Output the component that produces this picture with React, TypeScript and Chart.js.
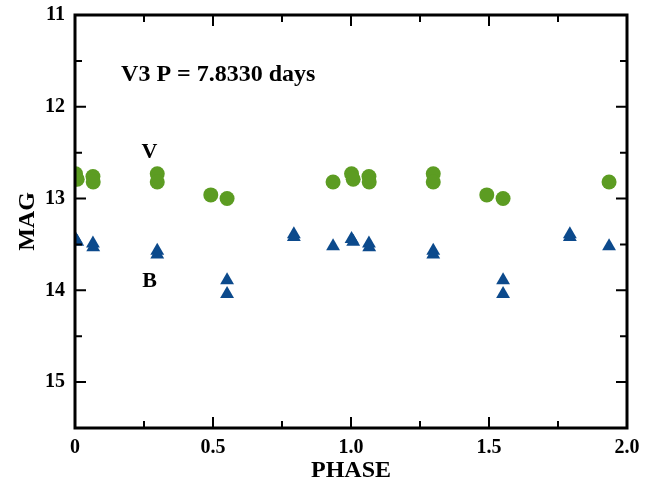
import React, { useEffect, useRef } from "react";
import { Chart, registerables } from "chart.js";

Chart.register(...registerables);

const vPhase = [0.002, 0.008, 0.065, 0.066, 0.298, 0.298, 0.492, 0.551, 0.935, 1.002, 1.008, 1.065, 1.066, 1.298, 1.298, 1.492, 1.551, 1.935];
const vMag = [12.73, 12.79, 12.76, 12.82, 12.73, 12.82, 12.96, 13.0, 12.82, 12.73, 12.79, 12.76, 12.82, 12.73, 12.82, 12.96, 13.0, 12.82];

const bPhase = [0.002, 0.008, 0.065, 0.066, 0.298, 0.298, 0.551, 0.551, 0.793, 0.793, 0.935, 1.002, 1.008, 1.065, 1.066, 1.298, 1.298, 1.551, 1.551, 1.793, 1.793, 1.935];
const bMag = [13.44, 13.47, 13.49, 13.53, 13.57, 13.61, 13.89, 14.04, 13.39, 13.42, 13.52, 13.44, 13.47, 13.49, 13.53, 13.57, 13.61, 13.89, 14.04, 13.39, 13.42, 13.52];

const titleText = "V3 P = 7.8330 days";
const vLabel = "V";
const bLabel = "B";

const FONT = "'Liberation Serif', 'Times New Roman', serif";

const framePlugin = {
  id: "framePlugin",
  afterDraw(chart: any) {
    const { ctx, chartArea } = chart;
    const { left, right, top, bottom } = chartArea;
    const xs = chart.scales.x;
    const ys = chart.scales.y;
    ctx.save();
    ctx.strokeStyle = "#000";
    ctx.lineWidth = 2;
    ctx.beginPath();
    xs.ticks.forEach((t: any) => {
      const v = t.value;
      if (v <= 0 || v >= 2) return;
      const major = Math.abs(v * 2 - Math.round(v * 2)) < 1e-6;
      const len = major ? 11 : 7;
      const px = xs.getPixelForValue(v);
      ctx.moveTo(px, bottom);
      ctx.lineTo(px, bottom - len);
      ctx.moveTo(px, top);
      ctx.lineTo(px, top + len);
    });
    ys.ticks.forEach((t: any) => {
      const v = t.value;
      if (v <= 11 || v >= 15.5) return;
      const major = Math.abs(v - Math.round(v)) < 1e-6;
      const len = major ? 11 : 7;
      const py = ys.getPixelForValue(v);
      ctx.moveTo(left, py);
      ctx.lineTo(left + len, py);
      ctx.moveTo(right, py);
      ctx.lineTo(right - len, py);
    });
    ctx.stroke();
    ctx.lineWidth = 3;
    ctx.strokeRect(left, top, right - left, bottom - top);

    ctx.fillStyle = "#000";
    ctx.textBaseline = "middle";
    ctx.textAlign = "left";
    ctx.font = `bold 24px ${FONT}`;
    ctx.fillText(titleText, xs.getPixelForValue(0.167), ys.getPixelForValue(11.65));
    ctx.textAlign = "center";
    ctx.font = `bold 22px ${FONT}`;
    ctx.fillText(vLabel, xs.getPixelForValue(0.27), ys.getPixelForValue(12.5));
    ctx.fillText(bLabel, xs.getPixelForValue(0.27), ys.getPixelForValue(13.9));
    ctx.restore();
  },
};

export default function App() {
  const ref = useRef<HTMLCanvasElement>(null);
  useEffect(() => {
    if (!ref.current) return;
    const chart = new Chart(ref.current, {
      type: "scatter",
      data: {
        datasets: [
          {
            label: "V",
            data: vPhase.map((p, i) => ({ x: p, y: vMag[i] })),
            pointStyle: "circle",
            pointRadius: 7.5,
            backgroundColor: "#5C9C22",
            borderColor: "#5C9C22",
            borderWidth: 0,
            clip: 0,
          } as any,
          {
            label: "B",
            data: bPhase.map((p, i) => ({ x: p, y: bMag[i] })),
            pointStyle: "triangle",
            pointRadius: 8,
            backgroundColor: "#0C4A8C",
            borderColor: "#0C4A8C",
            borderWidth: 0,
            clip: 0,
          } as any,
        ],
      },
      options: {
        responsive: false,
        animation: false,
        devicePixelRatio: 1,
        layout: { padding: { top: 15, right: 35, left: 0, bottom: 0 } },
        plugins: { legend: { display: false }, tooltip: { enabled: false } },
        scales: {
          x: {
            type: "linear",
            min: 0,
            max: 2,
            afterFit: (s: any) => {
              s.height = 63;
              s.paddingLeft = 0;
              s.paddingRight = 0;
            },
            grid: { display: false, drawTicks: false },
            border: { display: false },
            ticks: {
              stepSize: 0.25,
              autoSkip: false,
              maxRotation: 0,
              padding: 8,
              color: "#000",
              font: { family: FONT, size: 20, weight: "bold" },
              callback: (v: any) => {
                const n = Number(v);
                if (Math.abs(n) < 1e-9) return "0";
                if (Math.abs(n * 2 - Math.round(n * 2)) < 1e-6) return n.toFixed(1);
                return "";
              },
            },
            title: {
              display: true,
              text: "PHASE",
              color: "#000",
              font: { family: FONT, size: 24, weight: "bold" },
              padding: { top: 0, bottom: 6 },
            },
          },
          y: {
            type: "linear",
            reverse: true,
            min: 11,
            max: 15.5,
            afterFit: (s: any) => {
              s.width = 75;
              s.paddingTop = 0;
              s.paddingBottom = 0;
            },
            grid: { display: false, drawTicks: false },
            border: { display: false },
            ticks: {
              stepSize: 0.5,
              autoSkip: false,
              padding: 10,
              color: "#000",
              font: { family: FONT, size: 20, weight: "bold" },
              callback: (v: any) => {
                const n = Number(v);
                if (Math.abs(n - Math.round(n)) < 1e-6) return String(Math.round(n));
                return "";
              },
            },
            title: {
              display: true,
              text: "MAG",
              color: "#000",
              font: { family: FONT, size: 24, weight: "bold" },
              padding: { top: 13, bottom: 0 },
            },
          },
        },
      },
      plugins: [framePlugin],
    });
    return () => chart.destroy();
  }, []);
  return (
    <div style={{ position: "absolute", left: 0, top: 0, width: 662, height: 491, background: "#fff" }}>
      <canvas ref={ref} width={662} height={491} />
    </div>
  );
}
